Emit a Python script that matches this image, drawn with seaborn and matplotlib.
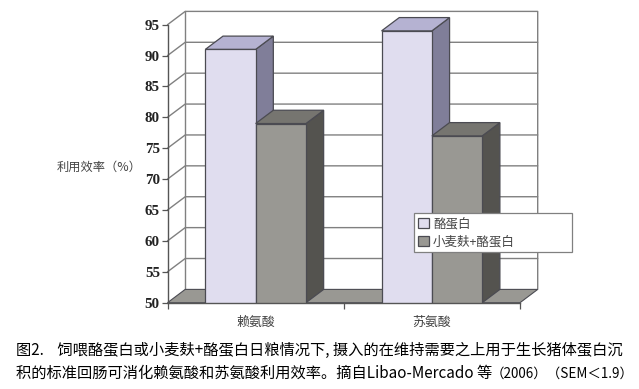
import pandas as pd
import matplotlib.pyplot as plt
import seaborn as sns
from matplotlib.patches import Polygon

amino_acids = ['赖氨酸', '苏氨酸']
diets = ['酪蛋白', '小麦麸+酪蛋白']
casein = [91, 94]
bran_casein = [79, 77]
y_ticks = [50, 55, 60, 65, 70, 75, 80, 85, 90, 95]

y_label = '利用效率（%）'
caption_1 = '图2.    饲喂酪蛋白或小麦麸+酪蛋白日粮情况下, 摄入的在维持需要之上用于生长猪体蛋白沉'
caption_2 = '积的标准回肠可消化赖氨酸和苏氨酸利用效率。摘自Libao-Mercado 等'
caption_3 = '（2006）（SEM＜1.9）'

front_colors = ['#e0ddef', '#999893']
top_colors = ['#b5b2d2', '#767570']
side_colors = ['#807e99', '#54534f']
FLOOR = '#999893'
EDGE = '#4b4b52'
GRID = '#808080'

W, H = 639, 389
X0, X1 = 167.5, 520.0
Y0, Y1 = 302.7, 24.7
DX_PX, DY_PX = 17.7, 13.3

sns.set_style('white')
plt.rcParams['font.family'] = ['Noto Sans CJK SC', 'DejaVu Sans']

df = pd.DataFrame({
    'acid': amino_acids * 2,
    'diet': [diets[0]] * 2 + [diets[1]] * 2,
    'value': casein + bran_casein,
})

fig = plt.figure(figsize=(W / 100, H / 100), dpi=100)
ax = fig.add_axes([X0 / W, 1 - Y0 / H, (X1 - X0) / W, (Y0 - Y1) / H])

sns.barplot(data=df, x='acid', y='value', hue='diet', order=amino_acids, hue_order=diets,
            palette=front_colors, saturation=1, width=0.571, gap=0,
            edgecolor=EDGE, linewidth=0.9, ax=ax)

ax.set_xlim(-0.5, 1.5)
ax.set_ylim(50, 95)
dx = DX_PX / (X1 - X0) * 2
dy = DY_PX / (Y0 - Y1) * 45

# back wall, floor and the side wall grid
for t in y_ticks[1:-1]:
    ax.plot([-0.5, -0.5 + dx, 1.5 + dx], [t, t + dy, t + dy], color=GRID, lw=1.0,
            clip_on=False, zorder=0.5)
ax.plot([-0.5, -0.5 + dx, 1.5 + dx, 1.5 + dx], [95, 95 + dy, 95 + dy, 50 + dy], color=GRID, lw=1.0,
        clip_on=False, zorder=0.5)
ax.plot([-0.5 + dx, -0.5 + dx], [50 + dy, 95 + dy], color=GRID, lw=1.0, clip_on=False, zorder=0.5)
ax.add_patch(Polygon([(-0.5, 50), (1.5, 50), (1.5 + dx, 50 + dy), (-0.5 + dx, 50 + dy)],
                     facecolor=FLOOR, edgecolor=EDGE, lw=0.8, clip_on=False, zorder=0.6))

# fake 3d faces, built from the bars seaborn drew
order = 1.0
for bar_idx in range(len(amino_acids)):
    for hue_idx, container in enumerate(ax.containers):
        bar = container[bar_idx]
        x, w, top = bar.get_x(), bar.get_width(), bar.get_height()
        side = [(x + w, 50), (x + w + dx, 50 + dy), (x + w + dx, top + dy), (x + w, top)]
        roof = [(x, top), (x + dx, top + dy), (x + w + dx, top + dy), (x + w, top)]
        ax.add_patch(Polygon(side, facecolor=side_colors[hue_idx], edgecolor=EDGE, lw=0.9,
                             clip_on=False, zorder=order))
        ax.add_patch(Polygon(roof, facecolor=top_colors[hue_idx], edgecolor=EDGE, lw=0.9,
                             clip_on=False, zorder=order + 0.1))
        bar.set_zorder(order + 0.2)
        order += 1

sns.despine(ax=ax)
for s in ['left', 'bottom']:
    ax.spines[s].set_color('#555555')
    ax.spines[s].set_linewidth(1.0)
    ax.spines[s].set_zorder(10)

ax.set_yticks(y_ticks)
ax.set_yticklabels(y_ticks, fontfamily='Liberation Serif', fontweight='bold', fontsize=10.8, color='#222222')
ax.tick_params(axis='y', left=True, length=4.5, width=0.9, color='#555555', pad=1)
ax.set_xticks([-0.5, 0.5, 1.5], minor=True)
ax.tick_params(axis='x', which='minor', bottom=True, length=4, width=0.9, color='#555555')
ax.tick_params(axis='x', which='major', bottom=False, labelsize=9.3, labelcolor='#444444', pad=6)
ax.set_xlabel('')
ax.set_ylabel('')
fig.text(99 / W, 1 - 167 / H, y_label, fontsize=8.8, color='#444444', ha='center', va='center')

handles, labels = ax.get_legend_handles_labels()
leg = ax.legend(handles, labels, bbox_to_anchor=(414.3 / W, 1 - 252.3 / H, 157.7 / W, 39 / H),
                bbox_transform=fig.transFigure, loc='lower left', mode='expand', borderaxespad=0,
                fontsize=9, frameon=True, framealpha=1, fancybox=False, edgecolor='#808080',
                handlelength=0.85, handleheight=0.85, handletextpad=0.35, labelspacing=0.44,
                borderpad=0.3, labelcolor='#444444')
leg.get_frame().set_linewidth(0.9)
leg.set_zorder(20)

fig.text(16 / W, 1 - 350 / H, caption_1, fontsize=11, color='black', ha='left', va='center')
fig.text(16 / W, 1 - 373.5 / H, caption_2, fontsize=11, color='black', ha='left', va='center')
fig.text(491 / W, 1 - 373.5 / H, caption_3, fontsize=9.7, color='black', ha='left', va='center')

fig.savefig('out.png', dpi=100)
